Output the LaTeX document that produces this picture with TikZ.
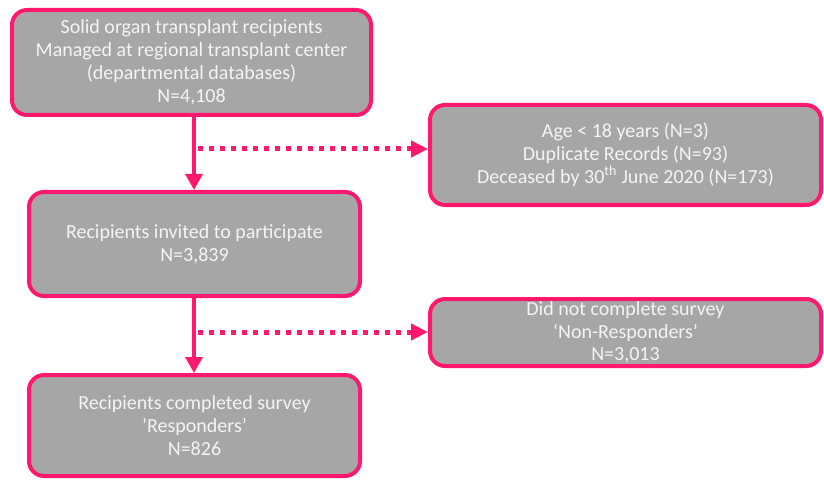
\documentclass[tikz,border=0pt]{standalone}
\usepackage{fontspec}
\setmainfont{Carlito}
\usetikzlibrary{arrows.meta}
\definecolor{pinkb}{HTML}{FF196E}
\definecolor{boxg}{HTML}{A6A6A6}
\definecolor{txtg}{HTML}{F4F4F4}
\begin{document}
\begin{tikzpicture}[x=1pt,y=-1pt,
  flowbox/.style={draw=pinkb, line width=4pt, fill=boxg, rounded corners=15pt,
    text=txtg, align=center, inner sep=0pt,
    font=\fontsize{20pt}{22.8pt}\selectfont},
  solidarrow/.style={draw=pinkb, line width=3.5pt, -{Triangle[length=16pt,width=17pt]}},
  dotarrow/.style={draw=pinkb, line width=5pt, dash pattern=on 5pt off 6pt,
    -{Triangle[length=17pt,width=16pt]}}]
\useasboundingbox (0,0) rectangle (824,481);
\node[flowbox, minimum width=359pt, minimum height=105pt] (b1) at (191.5,62.5)
  {Solid organ transplant recipients\\Managed at regional transplant center\\(departmental databases)\\N=4,108};
\node[flowbox, minimum width=331pt, minimum height=104pt] (b2) at (194.5,244)
  {Recipients invited to participate\\N=3,839};
\node[flowbox, minimum width=331pt, minimum height=101pt] (b5) at (194.5,425.5)
  {Recipients completed survey\\’Responders’\\N=826};
\node[flowbox, minimum width=391pt, minimum height=100pt] (b3) at (625.5,155)
  {Age < 18 years (N=3)\\Duplicate Records (N=93)\\Deceased by 30\textsuperscript{th} June 2020 (N=173)};
\node[flowbox, minimum width=391pt, minimum height=67pt] (b4) at (625.5,332.5)
  {Did not complete survey\\‘Non-Responders’\\N=3,013};
\draw[solidarrow] (b1.south -| 194,0) -- (b2.north -| 194,0);
\draw[solidarrow] (b2.south -| 194,0) -- (b5.north -| 194,0);
\coordinate (d1) at (198,149);
\coordinate (d2) at (198,332);
\draw[dotarrow] (d1) -- (b3.west |- d1);
\draw[dotarrow] (d2) -- (b4.west |- d2);
\end{tikzpicture}
\end{document}
